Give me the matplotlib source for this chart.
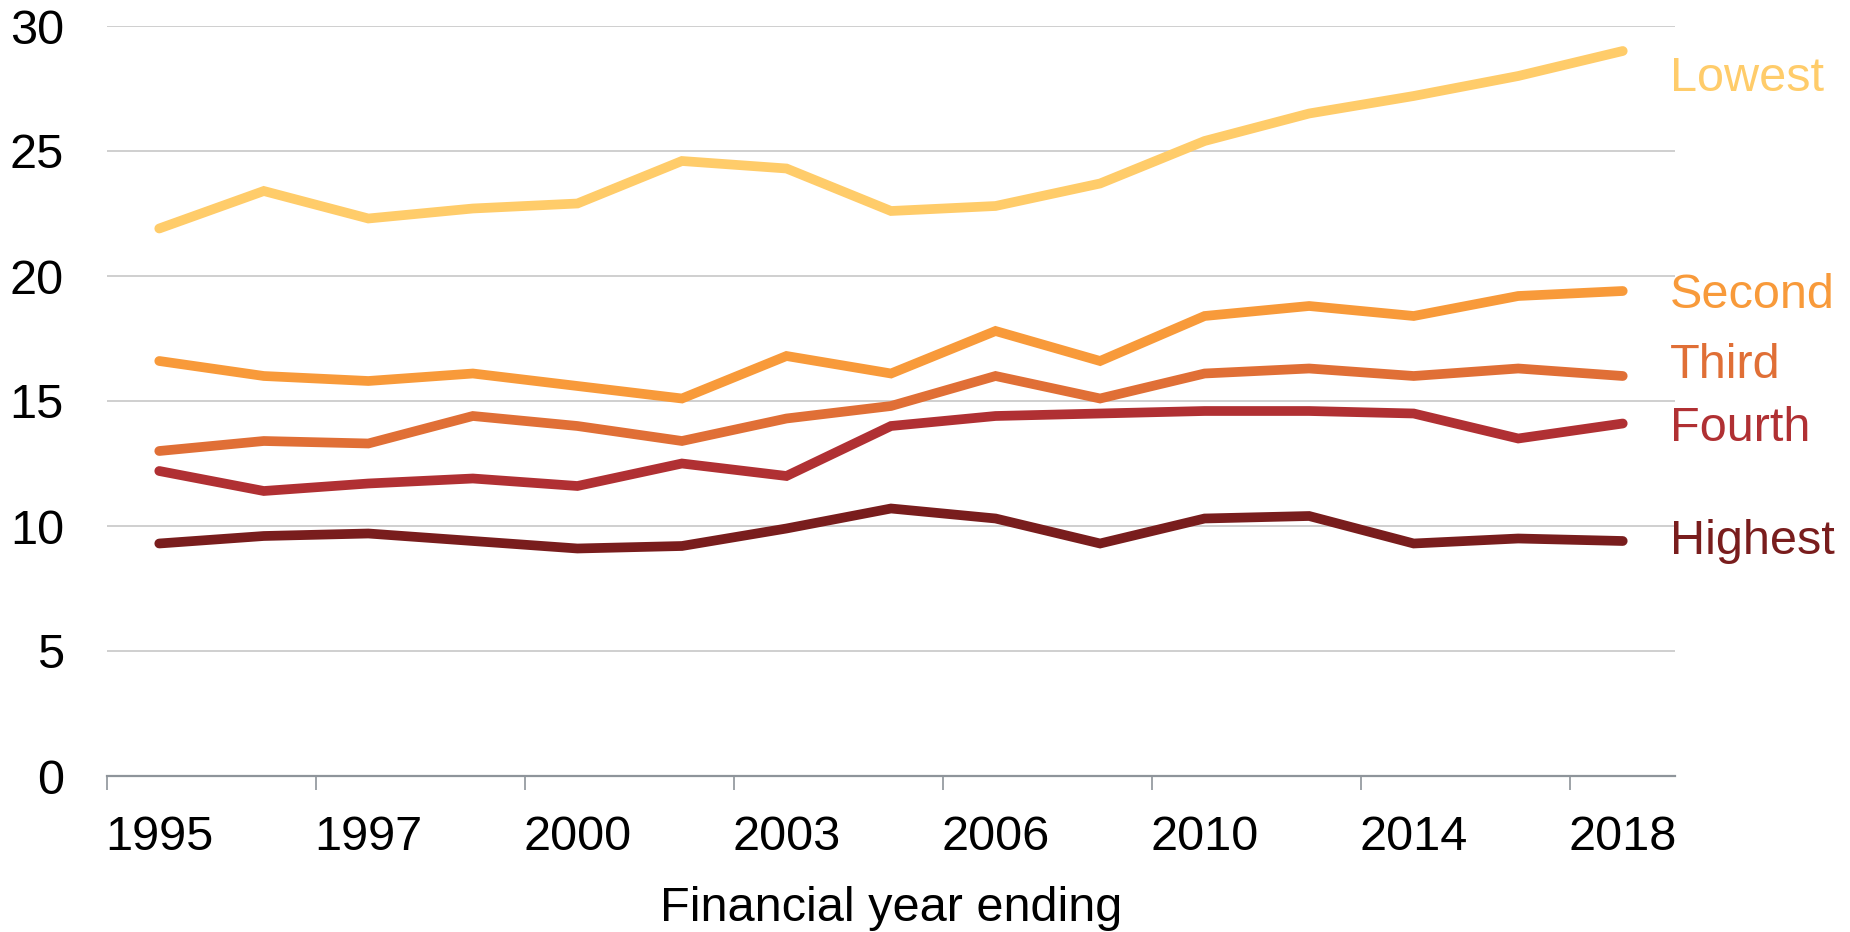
import numpy as np
import matplotlib
matplotlib.use('Agg')
import matplotlib.pyplot as plt

# share of people in each quintile, by financial year ending
years = ['1995', '', '1997', '', '2000', '', '2003', '', '2006', '', '2010', '', '2014', '', '2018']

lowest = [21.9, 23.4, 22.3, 22.7, 22.9, 24.6, 24.3, 22.6, 22.8, 23.7, 25.4, 26.5, 27.2, 28.0, 29.0]
second = [16.6, 16.0, 15.8, 16.1, 15.6, 15.1, 16.8, 16.1, 17.8, 16.6, 18.4, 18.8, 18.4, 19.2, 19.4]
third = [13.0, 13.4, 13.3, 14.4, 14.0, 13.4, 14.3, 14.8, 16.0, 15.1, 16.1, 16.3, 16.0, 16.3, 16.0]
fourth = [12.2, 11.4, 11.7, 11.9, 11.6, 12.5, 12.0, 14.0, 14.4, 14.5, 14.6, 14.6, 14.5, 13.5, 14.1]
highest = [9.3, 9.6, 9.7, 9.4, 9.1, 9.2, 9.9, 10.7, 10.3, 9.3, 10.3, 10.4, 9.3, 9.5, 9.4]

series = [
  ('Lowest', lowest, '#FFCC6A', -1.1),
  ('Second', second, '#F89A3A', -0.2),
  ('Third', third, '#E06F36', 0.4),
  ('Fourth', fourth, '#B03033', -0.2),
  ('Highest', highest, '#791D1D', 0.0),
]

plt.rcParams['font.family'] = ['Liberation Sans', 'DejaVu Sans']
FS = 35

fig = plt.figure(figsize=(18.5, 9.32), dpi=100)
ax = fig.add_axes([107/1850, 1 - 776/932, (1675-107)/1850, (776-26)/932])

x = np.arange(len(years))
for name, vals, col, nudge in series:
  ax.plot(x, vals, color=col, lw=7, solid_capstyle='round', solid_joinstyle='miter', zorder=3)
  ax.text(x[-1] + 0.45, vals[-1] + nudge, name, color=col, fontsize=FS,
          va='center', ha='left', clip_on=False)

ax.set_xlim(-0.5, len(years) - 0.5)
ax.set_ylim(0, 30)
ax.set_yticks(range(0, 31, 5))
ax.yaxis.grid(True, color='#CCCCCC', lw=1.3)
ax.set_axisbelow(True)
for s in ('top', 'right', 'left'):
  ax.spines[s].set_visible(False)
ax.spines['bottom'].set_color('#8E949A')
ax.spines['bottom'].set_linewidth(1.6)
ax.spines['bottom'].set_zorder(4)

# tick marks sit between categories, labels under every other category
ax.set_xticks(np.arange(-0.5, len(years) - 1, 2))
ax.set_xticklabels([])
ax.set_xticks(x, years, minor=True)
ax.tick_params(axis='x', which='major', length=10, width=1.2, color='#8E949A')
ax.tick_params(axis='x', which='minor', length=0, pad=28, labelsize=FS)
ax.tick_params(axis='y', length=0, pad=31, labelsize=FS)

ax.set_xlabel('Financial year ending', fontsize=FS, labelpad=19)

fig.savefig('out.png', dpi=100)
